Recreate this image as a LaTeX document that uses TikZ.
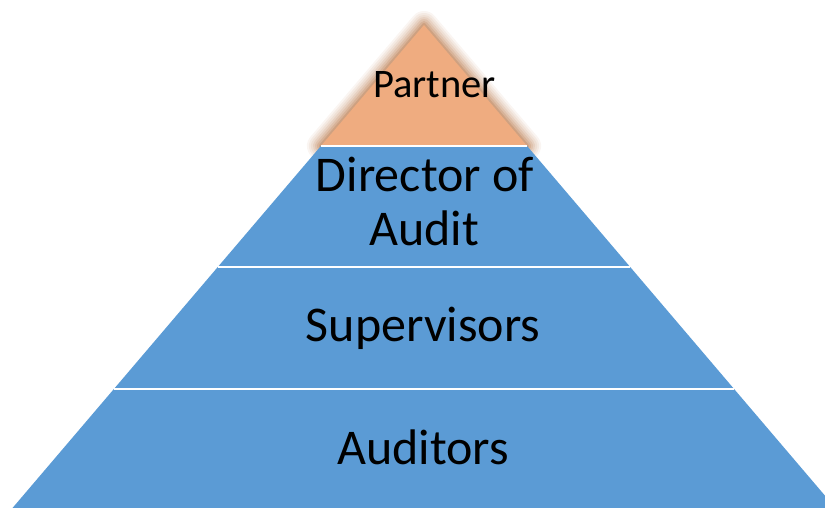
\documentclass[tikz,border=0pt]{standalone}
\usepackage{fontspec}
\setmainfont{Carlito}
\definecolor{layerblue}{HTML}{5B9BD5}
\definecolor{peach}{HTML}{EFAC80}
\definecolor{glowbrown}{HTML}{A8581F}
\tikzset{
  layer/.style={fill=layerblue, draw=none},
  sep/.style={draw=white, line width=2.2pt},
  bigtext/.style={font=\fontsize{50}{55}\selectfont, anchor=base, inner sep=0pt, text=black},
  toptext/.style={font=\fontsize{40.5}{46}\selectfont, anchor=base, inner sep=0pt, text=black},
}
\begin{document}
\begin{tikzpicture}[x=1pt,y=-1pt]
\clip (0,0) rectangle (825,508);
\coordinate (apex) at (424,25);
\coordinate (l1) at (320.9,146); \coordinate (r1) at (527.1,146);
\coordinate (l2) at (217.8,267); \coordinate (r2) at (630.2,267);
\coordinate (l3) at (113.9,389); \coordinate (r3) at (734.1,389);
\coordinate (l4) at (12.5,508);  \coordinate (r4) at (835.5,508);
% glow around partner
\foreach \w/\o in {28/0.06,24/0.07,20/0.08,16/0.10,12/0.12,8/0.15,4/0.2}{
  \draw[glowbrown, line width=\w pt, opacity=\o, line join=round] (apex) -- (l1) -- (r1) -- cycle;
}
\fill[peach] (apex) -- (l1) -- (r1) -- cycle;
% layers
\fill[layer] (l1) -- (l2) -- (r2) -- (r1) -- cycle;
\fill[layer] (l2) -- (l3) -- (r3) -- (r2) -- cycle;
\fill[layer] (l3) -- (l4) -- (r4) -- (r3) -- cycle;
% separators
\draw[sep] (l1) -- (r1);
\draw[sep] (l2) -- (r2);
\draw[sep] (l3) -- (r3);
% texts
\node[toptext] (partner) at (434.5,98) {Partner};
\node[bigtext] (director) at (425,192) {Director of};
\node[bigtext] (audit) at (424,245) {Audit};
\node[bigtext] (supervisors) at (423,341.5) {Supervisors};
\node[bigtext] (auditors) at (423,464) {Auditors};
\end{tikzpicture}
\end{document}
